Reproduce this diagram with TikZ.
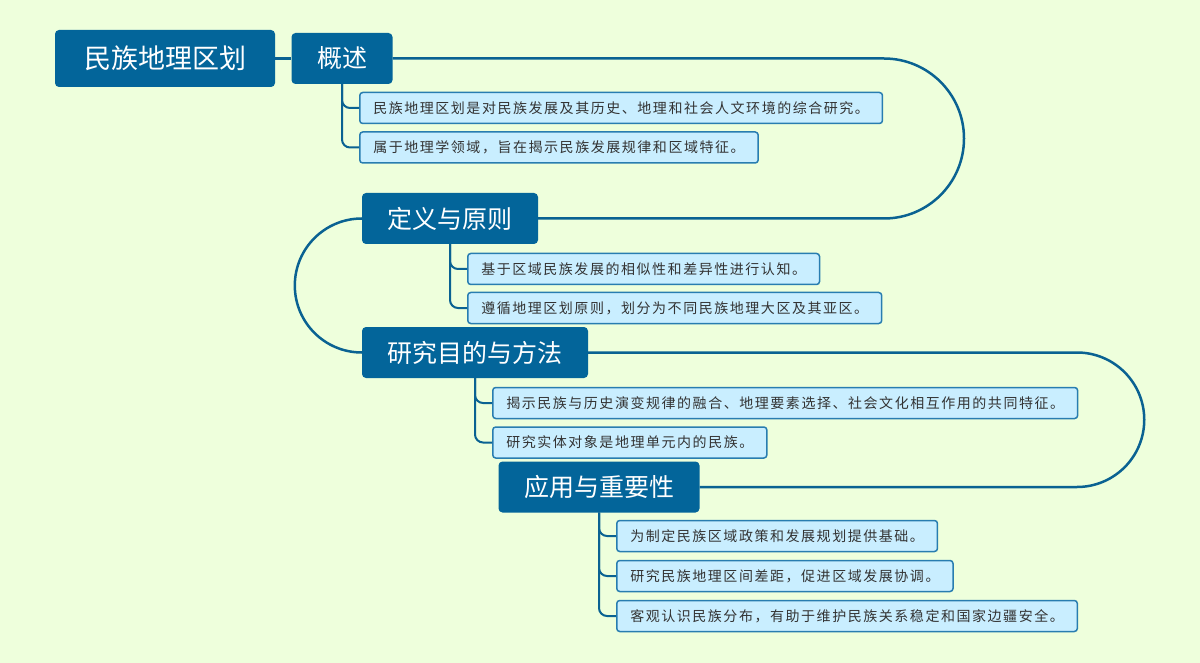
\documentclass[tikz,border=0pt]{standalone}
\usepackage{fontspec}
\usepackage{tikz}
\usepackage{xcolor}
\usetikzlibrary{positioning, calc}
\newfontfamily\cjk{Noto Sans CJK SC}
\newfontfamily\cjkleaf[LetterSpace=11]{Noto Sans CJK SC}
\definecolor{cBg}{RGB}{238,255,220}
\definecolor{cTopic}{RGB}{3,101,154}
\definecolor{cLine}{RGB}{10,98,146}
\definecolor{cLeaf}{RGB}{201,238,255}
\definecolor{cLeafEdge}{RGB}{40,125,176}
\definecolor{cText}{RGB}{51,51,51}
\tikzset{
    rootbox/.style={rectangle, rounded corners=4pt, minimum height=57pt, inner xsep=29pt, text centered, fill=cTopic, text=white, font=\cjk\fontsize{27}{30}\selectfont},
    topic/.style  ={rectangle, rounded corners=4pt, minimum height=51pt, inner xsep=25.5pt, text centered, fill=cTopic, text=white, font=\cjk\fontsize{25}{28}\selectfont},
    leaf/.style   ={rectangle, rounded corners=3pt, minimum height=31pt, inner xsep=13.5pt, anchor=west, draw=cLeafEdge, line width=1.5pt, fill=cLeaf, text=cText, font=\cjkleaf\fontsize{14}{16}\selectfont},
    link/.style   ={draw=cLine, line width=2.5pt},
    branch/.style ={draw=cLine, line width=2pt, rounded corners=8pt},
}
\begin{document}
\begin{tikzpicture}[x=1pt, y=-1pt]
    \fill[cBg] (0,0) rectangle (1200,663);
    \useasboundingbox (0,0) rectangle (1200,663);

    \node[rootbox] (root) at (165,58.5) {民族地理区划};
    \node[topic] (ov)  at (342,58.5) {概述};
    \node[topic] (def) at (450,218.5) {定义与原则};
    \node[topic] (res) at (475,352.5) {研究目的与方法};
    \node[topic] (app) at (599,487) {应用与重要性};

    \node[leaf] (ov1) at (359,108) {民族地理区划是对民族发展及其历史、地理和社会人文环境的综合研究。};
    \node[leaf] (ov2) at (359,147.5) {属于地理学领域，旨在揭示民族发展规律和区域特征。};
    \node[leaf] (def1) at (467,269) {基于区域民族发展的相似性和差异性进行认知。};
    \node[leaf] (def2) at (467,308) {遵循地理区划原则，划分为不同民族地理大区及其亚区。};
    \node[leaf] (res1) at (492,403) {揭示民族与历史演变规律的融合、地理要素选择、社会文化相互作用的共同特征。};
    \node[leaf] (res2) at (492,442.5) {研究实体对象是地理单元内的民族。};
    \node[leaf] (app1) at (616,536) {为制定民族区域政策和发展规划提供基础。};
    \node[leaf] (app2) at (616,576) {研究民族地理区间差距，促进区域发展协调。};
    \node[leaf] (app3) at (616,616) {客观认识民族分布，有助于维护民族关系稳定和国家边疆安全。};

    \draw[link] (root) -- (ov);
    \draw[link] (ov.east) -- (884,58.5) arc[start angle=-90, end angle=90, radius=80] -- (def.east);
    \draw[link] (def.west) arc[start angle=270, end angle=90, radius=67] -- (res.west);
    \draw[link] (res.east) -- (1077,352.5) arc[start angle=-90, end angle=90, radius=67.25] -- (app.east);

    \foreach \p/\c in {ov/ov1, ov/ov2, def/def1, def/def2, res/res1, res/res2, app/app1, app/app2, app/app3}
        \draw[branch] (\p.south) |- (\c.west);
\end{tikzpicture}
\end{document}
